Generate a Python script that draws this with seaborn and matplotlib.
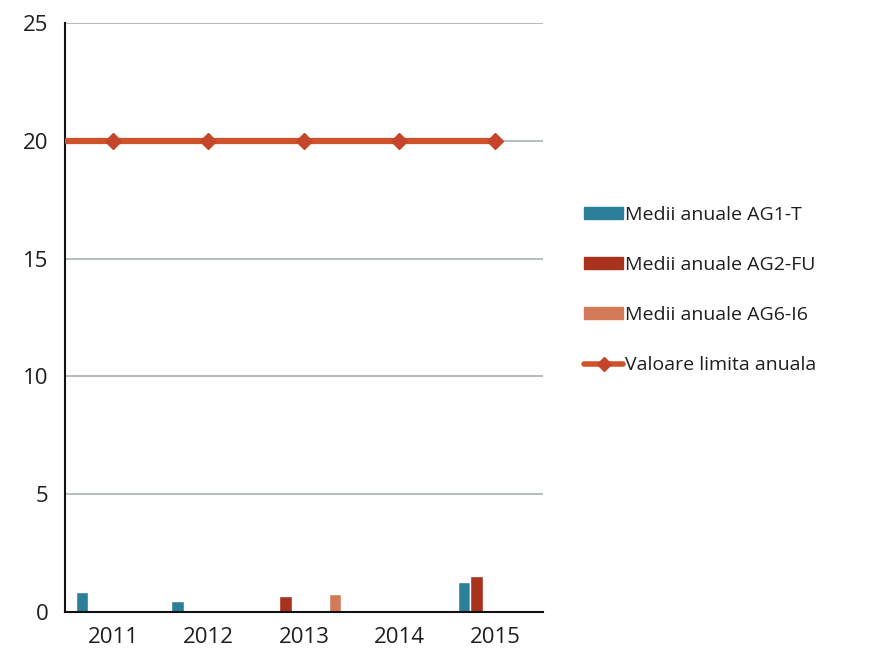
import numpy as np
import pandas as pd
import matplotlib
matplotlib.use("Agg")
import matplotlib.pyplot as plt
import seaborn as sns
from matplotlib.patches import Patch
from matplotlib.lines import Line2D

# chart data
years = ["2011", "2012", "2013", "2014", "2015"]
ag1_t = [0.85, 0.47, np.nan, np.nan, 1.27]
ag2_fu = [np.nan, np.nan, 0.68, np.nan, 1.53]
ag3 = [np.nan] * 5   # empty stations, kept only for the bar slots
ag4 = [np.nan] * 5
ag5 = [np.nan] * 5
ag6_i6 = [np.nan, np.nan, 0.76, np.nan, np.nan]
limita = [20, 20, 20, 20, 20]

series = {
    "Medii anuale AG1-T": ag1_t,
    "Medii anuale AG2-FU": ag2_fu,
    "AG3": ag3,
    "AG4": ag4,
    "AG5": ag5,
    "Medii anuale AG6-I6": ag6_i6,
}
colors = ["#2b7f9b", "#a8321c", "#ffffff", "#ffffff", "#ffffff", "#d27a5a"]
line_color = "#cf5329"
text_color = "#1e1e1e"

df = pd.DataFrame(
    [(y, name, v) for name, vals in series.items() for y, v in zip(years, vals)],
    columns=["an", "serie", "valoare"],
)

sns.set_style("white")
plt.rcParams["font.family"] = ["Open Sans", "DejaVu Sans"]

fig = plt.figure(figsize=(8.94, 6.6), dpi=100)
ax = fig.add_axes([0.073, 0.073, 0.534, 0.892])

sns.barplot(data=df, x="an", y="valoare", hue="serie", hue_order=list(series),
            palette=colors, width=0.78, dodge=True, ax=ax, legend=False,
            errorbar=None, saturation=1)

# limit line, starting at the left axis edge
xpos = np.arange(len(years))
ax.plot(np.r_[-0.5, xpos], [limita[0]] + limita, color=line_color, lw=4.5,
        zorder=3, solid_capstyle="butt")
ax.plot(xpos, limita, ls="none", marker="D", ms=8, color="#c4452a", zorder=4)

ax.set_ylim(0, 25)
ax.set_xlim(-0.5, len(years) - 0.5)
ax.set_yticks([0, 5, 10, 15, 20, 25])
ax.yaxis.grid(True, color="#a9b1b1", lw=1.2)
ax.set_axisbelow(True)
ax.set_xlabel("")
ax.set_ylabel("")

for s in ["top", "right"]:
    ax.spines[s].set_visible(False)
for s in ["left", "bottom"]:
    ax.spines[s].set_color("#111111")
    ax.spines[s].set_linewidth(1.5)

ax.set_xticks(np.arange(-0.5, len(years)), minor=True)
ax.tick_params(axis="x", which="major", length=0, labelsize=16, pad=11,
               labelcolor=text_color)
ax.tick_params(axis="x", which="minor", length=7, color="#555555", direction="out")
ax.tick_params(axis="y", length=6, color="#777777", labelsize=16, pad=6,
               labelcolor=text_color)

handles = [
    Patch(color=colors[0]),
    Patch(color=colors[1]),
    Patch(color=colors[5]),
    Line2D([], [], color=line_color, lw=4, marker="D", ms=7,
           markerfacecolor="#c4452a", markeredgecolor="#c4452a"),
]
labels = ["Medii anuale AG1-T", "Medii anuale AG2-FU", "Medii anuale AG6-I6",
          "Valoare limita anuala"]
leg = fig.legend(handles, labels, loc="upper left", bbox_to_anchor=(0.645, 0.70),
                 frameon=False, fontsize=14, handlelength=2.0, handleheight=0.6,
                 handletextpad=0.1, labelspacing=1.65, borderaxespad=0)
for t in leg.get_texts():
    t.set_color(text_color)

fig.savefig("out.png", dpi=100)
